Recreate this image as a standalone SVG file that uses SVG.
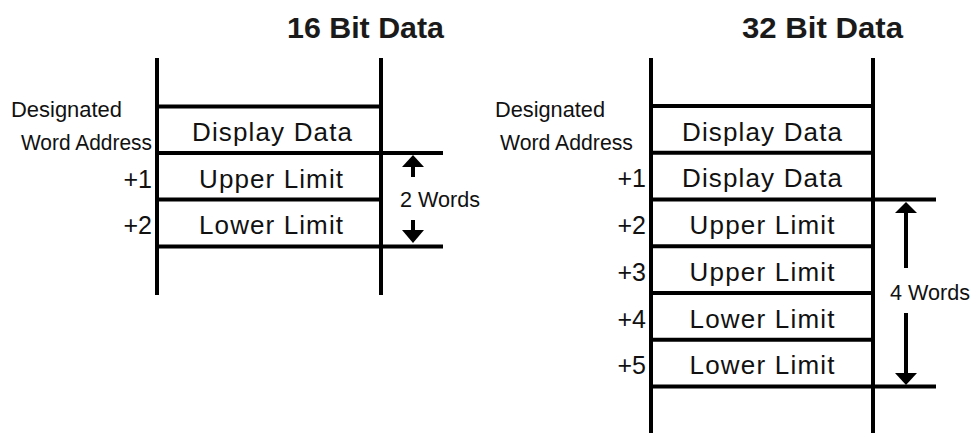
<svg xmlns="http://www.w3.org/2000/svg" width="975" height="433" viewBox="0 0 975 433">
<defs>
<style>
.ln{stroke:#000;stroke-width:4;fill:none}
.title{font-family:"Liberation Sans",Arial,sans-serif;font-weight:bold;font-size:29px;fill:#1a1a1a}
.cell{font-family:"Liberation Sans",Arial,sans-serif;font-size:26px;fill:#111;text-anchor:middle}
.lab{font-family:"Liberation Sans",Arial,sans-serif;font-size:22px;fill:#111}
.off{font-family:"Liberation Sans",Arial,sans-serif;font-size:25px;fill:#111;text-anchor:end}
.ah{fill:#000}
</style>
</defs>
<rect width="975" height="433" fill="#fff"/>

<g id="left-table">
<text class="title" x="287" y="38" textLength="157" lengthAdjust="spacingAndGlyphs">16 Bit Data</text>
<line class="ln" x1="157" y1="58" x2="157" y2="295"/>
<line class="ln" x1="381" y1="58" x2="381" y2="295"/>
<line class="ln" x1="157" y1="106.5" x2="381" y2="106.5"/>
<line class="ln" x1="157" y1="153" x2="443" y2="153"/>
<line class="ln" x1="157" y1="199.5" x2="381" y2="199.5"/>
<line class="ln" x1="157" y1="246.5" x2="443" y2="246.5"/>
<text class="lab" x="11" y="117" textLength="111" lengthAdjust="spacingAndGlyphs">Designated</text>
<text class="lab" x="21" y="150" textLength="131" lengthAdjust="spacingAndGlyphs">Word Address</text>
<text class="off" x="152" y="187.5">+1</text>
<text class="off" x="152" y="234">+2</text>
<text class="cell" x="272" y="141" textLength="160">Display Data</text>
<text class="cell" x="271" y="187.5" textLength="144">Upper Limit</text>
<text class="cell" x="271" y="234" textLength="144">Lower Limit</text>
</g>

<g id="right-table">
<text class="title" x="742" y="38" textLength="161" lengthAdjust="spacingAndGlyphs">32 Bit Data</text>
<line class="ln" x1="651" y1="58" x2="651" y2="433"/>
<line class="ln" x1="873" y1="58" x2="873" y2="433"/>
<line class="ln" x1="651" y1="106" x2="875" y2="106"/>
<line class="ln" x1="651" y1="152.75" x2="875" y2="152.75"/>
<line class="ln" x1="651" y1="199.5" x2="936" y2="199.5"/>
<line class="ln" x1="651" y1="246.25" x2="875" y2="246.25"/>
<line class="ln" x1="651" y1="293" x2="875" y2="293"/>
<line class="ln" x1="651" y1="339.75" x2="875" y2="339.75"/>
<line class="ln" x1="651" y1="386.5" x2="936" y2="386.5"/>
<text class="lab" x="495" y="117" textLength="110" lengthAdjust="spacingAndGlyphs">Designated</text>
<text class="lab" x="500" y="150" textLength="133" lengthAdjust="spacingAndGlyphs">Word Address</text>
<text class="off" x="646" y="187.25">+1</text>
<text class="off" x="646" y="234">+2</text>
<text class="off" x="646" y="280.75">+3</text>
<text class="off" x="646" y="327.5">+4</text>
<text class="off" x="646" y="374.25">+5</text>
<text class="cell" x="762" y="140.5" textLength="160">Display Data</text>
<text class="cell" x="762" y="187.25" textLength="160">Display Data</text>
<text class="cell" x="762" y="234" textLength="145">Upper Limit</text>
<text class="cell" x="762" y="280.75" textLength="145">Upper Limit</text>
<text class="cell" x="762" y="327.5" textLength="145">Lower Limit</text>
<text class="cell" x="762" y="374.25" textLength="145">Lower Limit</text>
</g>

<g id="connectors">
<g id="dim-2-words">
<line class="ln" x1="413" y1="166" x2="413" y2="177"/>
<polygon class="ah" points="413,155 402,167 424,167"/>
<line class="ln" x1="413" y1="220" x2="413" y2="231"/>
<polygon class="ah" points="413,243 402,230 424,230"/>
<text class="lab" x="400" y="207" textLength="80" lengthAdjust="spacingAndGlyphs">2 Words</text>
</g>
<g id="dim-4-words">
<line class="ln" x1="906" y1="212" x2="906" y2="268"/>
<polygon class="ah" points="906,202 895,213 917,213"/>
<line class="ln" x1="906" y1="313" x2="906" y2="374"/>
<polygon class="ah" points="906,385 895,373 917,373"/>
<text class="lab" x="890" y="300" textLength="80" lengthAdjust="spacingAndGlyphs">4 Words</text>
</g>
</g>
</svg>
